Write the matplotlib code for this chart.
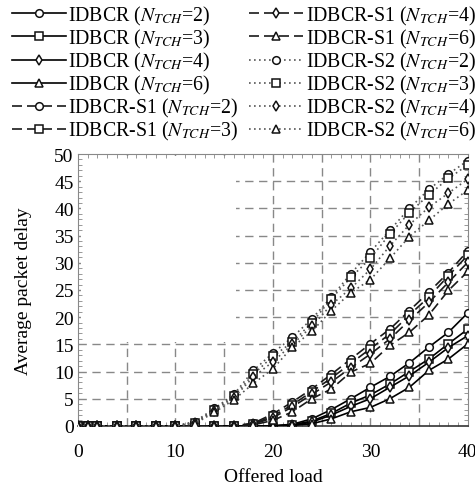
import numpy as np
import matplotlib
matplotlib.use("Agg")
import matplotlib.pyplot as plt
from matplotlib.patches import Rectangle
from matplotlib.ticker import MultipleLocator

plt.rcParams['font.family'] = ['Liberation Serif', 'DejaVu Serif']
plt.rcParams['mathtext.fontset'] = 'stix'

# offered load
load = [0, 1, 2, 4, 6, 8, 10, 12, 14, 16, 18, 20, 22, 24, 26, 28, 30, 32, 34, 36, 38, 40]

# IDBCR (solid)
idbcr_2 = [0, 0, 0, 0, 0, 0, 0, 0, 0, 0, 0, 0, 0.3, 1.3, 3.0, 5.0, 7.1, 9.1, 11.6, 14.5, 17.2, 20.8]
idbcr_3 = [0, 0, 0, 0, 0, 0, 0, 0, 0, 0, 0, 0, 0.2, 0.9, 2.3, 4.2, 5.7, 7.7, 10.0, 12.3, 15.1, 17.8]
idbcr_4 = [0, 0, 0, 0, 0, 0, 0, 0, 0, 0, 0, 0, 0.1, 0.7, 2.0, 3.6, 5.0, 7.1, 9.2, 11.7, 14.4, 16.6]
idbcr_6 = [0, 0, 0, 0, 0, 0, 0, 0, 0, 0, 0, 0, 0.1, 0.4, 1.3, 2.6, 3.4, 5.0, 7.1, 10.2, 12.3, 15.1]

# IDBCR-S1 (dashed)
s1_2 = [0, 0, 0, 0, 0, 0, 0, 0, 0, 0, 0.5, 2.2, 4.4, 6.8, 9.5, 12.3, 15.1, 17.8, 21.2, 24.6, 28.2, 32.2]
s1_3 = [0, 0, 0, 0, 0, 0, 0, 0, 0, 0, 0.4, 1.8, 3.9, 6.3, 8.8, 11.5, 14.2, 16.9, 20.4, 23.7, 27.6, 31.4]
s1_4 = [0, 0, 0, 0, 0, 0, 0, 0, 0, 0, 0.3, 1.5, 3.5, 5.8, 8.1, 10.7, 13.2, 16.0, 19.4, 22.7, 26.4, 30.1]
s1_6 = [0, 0, 0, 0, 0, 0, 0, 0, 0, 0, 0.2, 1.0, 2.6, 5.0, 6.8, 9.9, 11.5, 14.8, 17.2, 20.4, 24.9, 28.4]

# IDBCR-S2 (dotted)
s2_2 = [0, 0, 0, 0, 0, 0, 0, 0.8, 3.2, 5.8, 10.2, 13.4, 16.3, 19.7, 23.7, 28.0, 32.0, 36.0, 40.0, 43.5, 46.3, 48.8]
s2_3 = [0, 0, 0, 0, 0, 0, 0, 0.6, 3.0, 5.5, 9.5, 12.8, 15.4, 19.0, 23.4, 27.3, 30.8, 35.3, 39.2, 42.5, 45.5, 48.0]
s2_4 = [0, 0, 0, 0, 0, 0, 0, 0.5, 2.8, 5.2, 9.0, 11.8, 15.0, 18.3, 22.3, 25.3, 28.8, 33.1, 37.0, 40.2, 42.8, 45.4]
s2_6 = [0, 0, 0, 0, 0, 0, 0, 0.4, 2.5, 4.8, 7.8, 10.5, 14.5, 17.4, 21.2, 24.5, 26.9, 30.8, 34.8, 37.8, 40.8, 43.4]

n_tch = [2, 3, 4, 6]
markers = ['o', 's', 'd', '^']

fig = plt.figure(figsize=(4.75, 4.89), dpi=100)
ax = fig.add_axes([0.164, 0.127, 0.821, 0.556])

groups = [
    ('IDBCR', [idbcr_2, idbcr_3, idbcr_4, idbcr_6], '-', 'black', None),
    ('IDBCR-S1', [s1_2, s1_3, s1_4, s1_6], '--', '#1a1a1a', (6, 3)),
    ('IDBCR-S2', [s2_2, s2_3, s2_4, s2_6], ':', '#555555', (1, 2)),
]

handles = []
for name, series, ls, col, dash in groups:
    for n, mk, vals in zip(n_tch, markers, series):
        h, = ax.plot(load, vals, linestyle=ls, color=col, lw=1.2,
                     marker=mk, markersize=5.5, markerfacecolor='white',
                     markeredgecolor='#111111', markeredgewidth=1.1,
                     label=name + r' ($N_{TCH}$=' + str(n) + ')', zorder=3)
        if dash is not None:
            h.set_dashes(dash)
        handles.append(h)

ax.set_xlim(0, 40)
ax.set_ylim(0, 50)
ax.xaxis.set_major_locator(MultipleLocator(10))
ax.xaxis.set_minor_locator(MultipleLocator(1))
ax.yaxis.set_major_locator(MultipleLocator(5))
ax.yaxis.set_minor_locator(MultipleLocator(1))
ax.tick_params(which='both', direction='in', top=True, right=True, colors='#888888',
               labelcolor='black', labelsize=14)
ax.tick_params(which='major', length=0)
ax.tick_params(which='minor', length=3, width=0.6)
ax.tick_params(axis='x', pad=12)
ax.tick_params(axis='y', pad=3)

# grid every 5 units
for v in range(5, 40, 5):
    ax.axvline(v, color='#888888', lw=1.0, ls=(0, (6, 4)), zorder=0.6)
for v in range(5, 50, 5):
    ax.axhline(v, color='#888888', lw=1.0, ls=(0, (6, 4)), zorder=0.6)
ax.add_patch(Rectangle((0.3, 15.4), 15.9, 34.3, facecolor='white', edgecolor='none', zorder=1))

for s in ['left', 'top', 'right']:
    ax.spines[s].set_color('#888888')
    ax.spines[s].set_linewidth(0.8)
ax.spines['bottom'].set_color('#333333')
ax.spines['bottom'].set_linewidth(1.2)

ax.set_xlabel('Offered load', fontsize=14, labelpad=6)
ax.set_ylabel('Average packet delay', fontsize=14, labelpad=16)

fig.legend(handles=handles, loc='upper left', bbox_to_anchor=(0.025, 0.99), ncol=2,
           frameon=False, fontsize=14.3, borderaxespad=0, borderpad=0,
           handlelength=2.7, handletextpad=0.15, columnspacing=0.55, labelspacing=0.0)

fig.savefig('out.png', dpi=100)
